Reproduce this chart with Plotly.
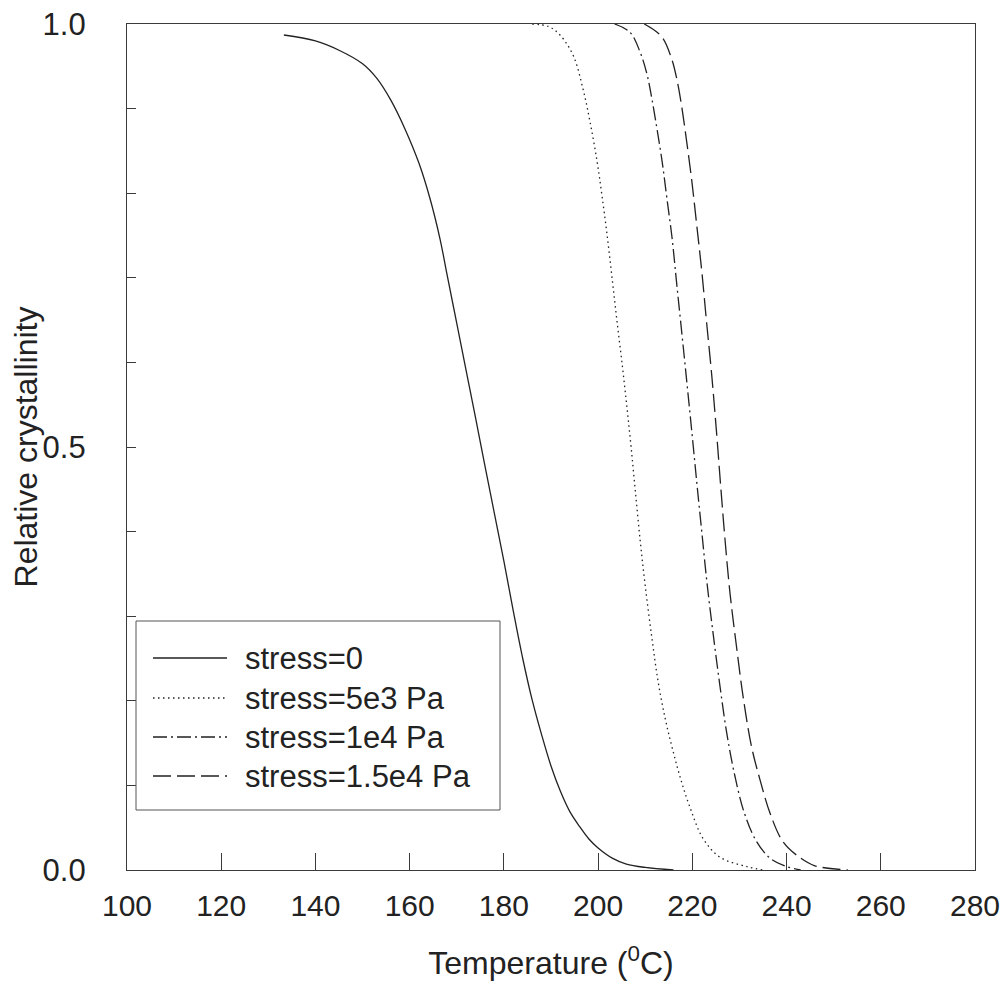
import plotly.graph_objects as go

# ---- data ----
series_names = ["stress=0", "stress=5e3 Pa", "stress=1e4 Pa", "stress=1.5e4 Pa"]

t_s0 = [133.3, 140.0, 145.0, 150.0, 153.0, 156.0, 159.0, 162.0, 164.3, 166.4, 168.0,
        170.0, 172.0, 174.0, 176.0, 178.0, 180.0, 182.0, 184.0, 186.0, 188.0, 190.0,
        192.0, 194.0, 196.0, 198.0, 200.0, 203.0, 206.0, 210.0, 216.0]
x_s0 = [0.987, 0.980, 0.969, 0.953, 0.936, 0.910, 0.876, 0.835, 0.794, 0.747, 0.702,
        0.646, 0.590, 0.534, 0.477, 0.421, 0.365, 0.306, 0.250, 0.201, 0.160, 0.123,
        0.093, 0.069, 0.052, 0.037, 0.026, 0.014, 0.007, 0.003, 0.0]

t_s1 = [186.0, 189.5, 191.9, 194.7, 196.8, 198.3, 199.8, 200.8, 201.9, 203.0, 204.0,
        205.1, 206.1, 207.0, 207.9, 208.9, 210.0, 211.4, 212.7, 214.2, 215.7, 217.4,
        219.5, 222.3, 225.9, 231.6, 235.0]
x_s1 = [1.0, 0.997, 0.987, 0.963, 0.923, 0.884, 0.837, 0.798, 0.751, 0.698, 0.649,
        0.598, 0.548, 0.500, 0.448, 0.391, 0.336, 0.275, 0.224, 0.180, 0.145, 0.110,
        0.074, 0.037, 0.015, 0.004, 0.0]

t_s2 = [203.5, 206.8, 208.9, 210.4, 211.4, 212.5, 213.6, 214.6, 215.7, 216.7, 217.8,
        218.9, 220.0, 221.0, 222.0, 223.1, 224.4, 225.8, 227.3, 229.0, 231.0, 233.5,
        236.5, 240.0, 243.0]
x_s2 = [1.0, 0.99, 0.967, 0.94, 0.912, 0.876, 0.837, 0.794, 0.747, 0.692, 0.633,
        0.573, 0.512, 0.455, 0.400, 0.340, 0.280, 0.220, 0.162, 0.112, 0.068, 0.035,
        0.014, 0.004, 0.0]

t_s3 = [209.8, 213.5, 215.6, 216.7, 217.7, 218.8, 219.9, 220.9, 222.0, 223.0, 224.1,
        225.1, 226.0, 226.9, 228.0, 229.4, 230.8, 232.6, 234.4, 236.5, 239.3, 243.0,
        246.0, 253.0]
x_s3 = [1.0, 0.985, 0.959, 0.935, 0.904, 0.861, 0.814, 0.764, 0.708, 0.649, 0.586,
        0.520, 0.455, 0.393, 0.327, 0.263, 0.204, 0.145, 0.106, 0.067, 0.033, 0.014,
        0.005, 0.0]

x_ticks = [100, 120, 140, 160, 180, 200, 220, 240, 260, 280]
y_ticks = [0.0, 0.5, 1.0]
y_tick_text = ["0.0", "0.5", "1.0"]

# ---- styling ----
FONT = "Arial, Liberation Sans, Helvetica, sans-serif"
LINE_COLOR = "#222222"
AXIS_COLOR = "#3a3a3a"
dashes = ["solid", "1.5px,3.5px", "14px,4px,2px,4px", "18px,6px"]
series = [(t_s0, x_s0), (t_s1, x_s1), (t_s2, x_s2), (t_s3, x_s3)]

fig = go.Figure()
for (t, v), name, d in zip(series, series_names, dashes):
    fig.add_trace(go.Scatter(
        x=t, y=v, mode="lines", name=name, showlegend=False,
        line=dict(color=LINE_COLOR, width=1.3, dash=d, shape="spline", smoothing=1.0),
    ))

# page body has an 8px margin, so the figure starts 8px into the window
W, H = 1000, 978
ML, MR, MT, MB = 119, 33, 16, 116
PW, PH = W - ML - MR, H - MT - MB


def px_x(p):  # window pixel -> paper x
    return (p - 8 - ML) / PW


def px_y(p):  # window pixel -> paper y
    return (H - MB - (p - 8)) / PH


# manual legend box (long line samples like the original)
shapes = [dict(type="rect", xref="paper", yref="paper",
               x0=px_x(136), x1=px_x(500), y0=px_y(810), y1=px_y(621),
               line=dict(color="#555555", width=1), fillcolor="white", layer="above")]
annotations = []
rows_py = [658, 698, 737, 776]
for name, d, py in zip(series_names, dashes, rows_py):
    shapes.append(dict(type="line", xref="paper", yref="paper",
                       x0=px_x(153), x1=px_x(227), y0=px_y(py), y1=px_y(py),
                       line=dict(color=LINE_COLOR, width=1.3, dash=d), layer="above"))
    annotations.append(dict(xref="paper", yref="paper", x=px_x(243), y=px_y(py),
                            text=name, showarrow=False, xanchor="left", yanchor="middle",
                            font=dict(family=FONT, size=31, color="#222222")))

fig.update_layout(
    width=W, height=H,
    margin=dict(l=ML, r=MR, t=MT, b=MB, autoexpand=False),
    paper_bgcolor="white", plot_bgcolor="white",
    font=dict(family=FONT, color="#222222"),
    shapes=shapes, annotations=annotations,
    showlegend=False,
)
fig.update_xaxes(
    range=[100, 280], tickvals=x_ticks, ticks="inside", ticklen=17, tickwidth=1.2,
    tickcolor=AXIS_COLOR, showline=True, linecolor=AXIS_COLOR, linewidth=1.3, mirror=True,
    showgrid=False, zeroline=False, tickfont=dict(family=FONT, size=30, color="#222222"),
    ticklabelstandoff=9, ticklabeloverflow="allow",
    title=dict(text="Temperature (<sup>0</sup>C)", font=dict(family=FONT, size=32, color="#222222"),
               standoff=30),
)
fig.update_yaxes(
    range=[0, 1], tickvals=y_ticks, ticktext=y_tick_text, ticks="inside", ticklen=9,
    tickwidth=1.2, tickcolor=AXIS_COLOR, showline=True, linecolor=AXIS_COLOR, linewidth=1.3,
    mirror=True, showgrid=False, zeroline=False,
    minor=dict(dtick=0.1, ticks="inside", ticklen=9, tickwidth=1.2, tickcolor=AXIS_COLOR,
               showgrid=False),
    tickfont=dict(family=FONT, size=31, color="#222222"), ticklabelstandoff=34,
    ticklabeloverflow="allow",
    title=dict(text="Relative crystallinity", font=dict(family=FONT, size=32, color="#222222"),
               standoff=18),
)

fig.write_html("out.html")
